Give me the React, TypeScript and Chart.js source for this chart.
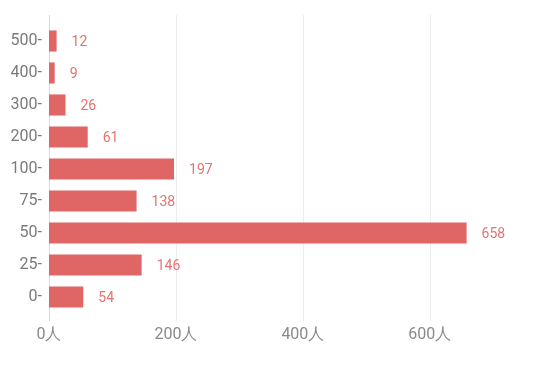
import React, { useEffect, useRef } from "react";
import { Chart, registerables } from "chart.js";

Chart.register(...registerables);

const categories = ["500-", "400-", "300-", "200-", "100-", "75-", "50-", "25-", "0-"];
const values = [12, 9, 26, 61, 197, 138, 658, 146, 54];
const xTicks = [0, 200, 400, 600];
const unit = "人";

const BAR = "#e06666";
const LABEL = "#e57373";

const gridLines = {
  id: "gridLines",
  beforeDatasetsDraw(chart: any) {
    const ctx = chart.ctx;
    const { top, bottom } = chart.chartArea;
    const xs = chart.scales.x;
    ctx.save();
    ctx.lineWidth = 1;
    xTicks.forEach((v, i) => {
      const x = Math.round(xs.getPixelForValue(v)) + 0.5;
      ctx.strokeStyle = i === 0 ? "#d8d8d8" : "#ececec";
      ctx.beginPath();
      ctx.moveTo(x, top - 10);
      ctx.lineTo(x, bottom + 8);
      ctx.stroke();
    });
    ctx.restore();
  },
};

const valueLabels = {
  id: "valueLabels",
  afterDatasetsDraw(chart: any) {
    const ctx = chart.ctx;
    const meta = chart.getDatasetMeta(0);
    ctx.save();
    ctx.font = "14px Roboto";
    ctx.fillStyle = LABEL;
    ctx.textAlign = "left";
    ctx.textBaseline = "middle";
    meta.data.forEach((el: any, i: number) => {
      ctx.fillText(String(values[i]), el.x + 15, el.y + 1);
    });
    ctx.restore();
  },
};

export default function App() {
  const ref = useRef<HTMLCanvasElement>(null);
  useEffect(() => {
    const chart = new Chart(ref.current!, {
      type: "bar",
      data: {
        labels: categories,
        datasets: [
          {
            data: values,
            backgroundColor: BAR,
            barPercentage: 0.66,
            categoryPercentage: 1,
          },
        ],
      },
      options: {
        indexAxis: "y",
        animation: false,
        responsive: false,
        maintainAspectRatio: false,
        layout: { padding: { top: 25, right: 15, left: 0, bottom: 0 } },
        plugins: { legend: { display: false }, tooltip: { enabled: false } },
        scales: {
          x: {
            min: 0,
            max: 750,
            afterBuildTicks(scale: any) {
              scale.ticks = xTicks.map((v) => ({ value: v }));
            },
            afterFit(scale: any) {
              scale.height = 63;
            },
            grid: { display: false, drawTicks: true, tickLength: 8 },
            border: { display: false },
            ticks: {
              color: "#8a8a8a",
              font: { family: "Roboto", size: 16 },
              padding: 4,
              callback: (v: any) => v + unit,
            },
          },
          y: {
            afterFit(scale: any) {
              scale.width = 49;
            },
            grid: { display: false, drawTicks: false },
            border: { display: false },
            ticks: {
              color: "#7a7a7a",
              font: { family: "Roboto", size: 16 },
              padding: 7,
            },
          },
        },
      },
      plugins: [gridLines, valueLabels],
    });
    return () => chart.destroy();
  }, []);
  return (
    <div style={{ position: "fixed", left: 0, top: 0, width: 540, height: 376, background: "#fff" }}>
      <canvas ref={ref} width={540} height={376} />
    </div>
  );
}
